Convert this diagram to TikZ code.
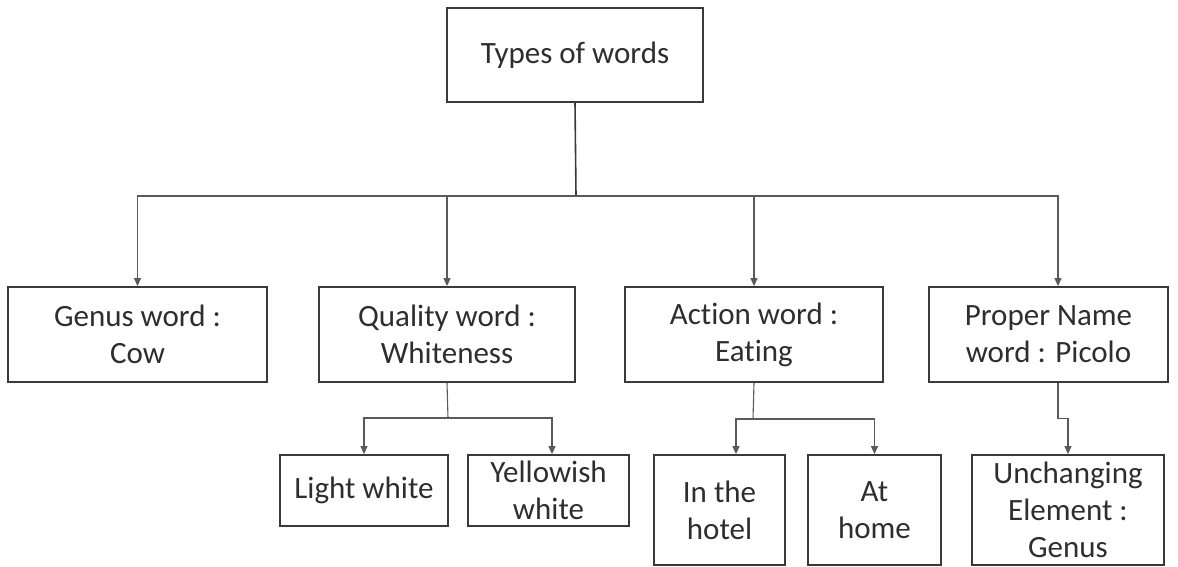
\documentclass[tikz,border=0pt]{standalone}
\usepackage{fontspec}
\setmainfont{Carlito}[Ligatures=NoCommon]
\usepackage{xcolor}
\usetikzlibrary{arrows.meta}
\definecolor{boxgray}{HTML}{3A3A3A}
\definecolor{linegray}{HTML}{5A5A5A}
\definecolor{textgray}{HTML}{2E2E2E}
\begin{document}
\begin{tikzpicture}[x=1pt,y=-1pt,
wordbox/.style={draw=boxgray,line width=1.8pt,align=center,inner sep=0pt,text=textgray,font=\fontsize{31}{37}\selectfont},
link/.style={draw=linegray,line width=1.1pt},
arr/.style={link,-{Triangle[length=8pt,width=7pt]}}]
\useasboundingbox(0,0)rectangle(1178,567);
\node[wordbox,minimum width=256,minimum height=94](words)at(575,55){Types of words};
\node[wordbox,minimum width=259,minimum height=95](genus)at(137.5,334.5){Genus word :\\Cow};
\node[wordbox,minimum width=256,minimum height=95](quality)at(447,334.5){Quality word :\\Whiteness};
\node[wordbox,minimum width=258,minimum height=95](action)at(754,334.5){Action word :\\Eating};
\node[wordbox,minimum width=239,minimum height=95](proper)at(1048.5,334.5){Proper Name\\word : Picolo};
\node[wordbox,minimum width=168,minimum height=71](light)at(364,490.5){Light white};
\node[wordbox,minimum width=161,minimum height=71](yellow)at(548.5,490.5){Yellowish\\white};
\node[wordbox,minimum width=131,minimum height=110](hotel)at(719.5,510){In the\\hotel};
\node[wordbox,minimum width=133,minimum height=110](home)at(874.5,510){At\\home};
\node[wordbox,minimum width=192,minimum height=110](unch)at(1068,510){Unchanging\\Element :\\Genus};
\coordinate(bus)at(576,196);
\coordinate(qbus)at(448,418);
\coordinate(abus)at(753,419);
\draw[link,draw=boxgray,line width=1.6pt](words.south)--(bus);
\draw[arr](bus)-|(genus.north);
\draw[arr](bus)-|(quality.north);
\draw[arr](bus)-|(action.north);
\draw[arr](bus)-|([xshift=9.5pt]proper.north);
\draw[link](quality.south)--(qbus);
\draw[arr](qbus)-|(light.north);
\draw[arr](qbus)-|([xshift=3.5pt]yellow.north);
\draw[link](action.south)--(abus);
\draw[arr](abus)-|([xshift=16.5pt]hotel.north);
\draw[arr](abus)-|(home.north);
\draw[arr]([xshift=9.5pt]proper.south)--++(0,36)-|(unch.north);
\end{tikzpicture}
\end{document}
